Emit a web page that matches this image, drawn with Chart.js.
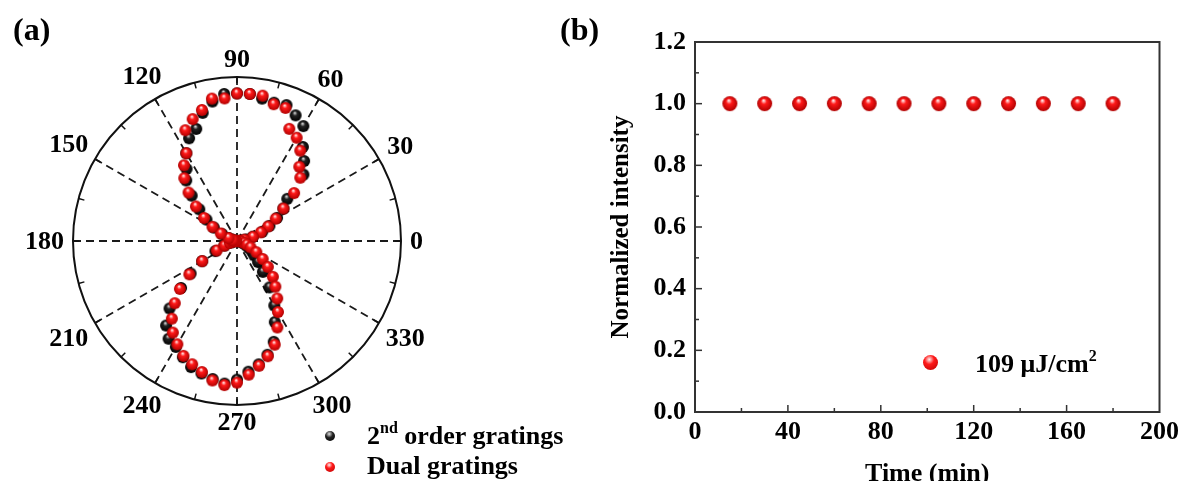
<!DOCTYPE html>
<html>
<head>
<meta charset="utf-8">
<script src="https://cdn.jsdelivr.net/npm/chart.js@4.4.1/dist/chart.umd.min.js"></script>
<style>
  body { margin: 0; background: #fff; }
  #wrap { position: relative; width: 1184px; height: 481px; overflow: hidden;
          font-family: "Liberation Serif", "Times New Roman", serif; font-weight: bold; color: #000; }
  .box { position: absolute; }
  .txt { position: absolute; white-space: nowrap; font-size: 26px; line-height: 26px; }
  .sup { font-size: 16px; position: relative; top: -11px; }
  .ball { position: absolute; border-radius: 50%; }
  .red { background: radial-gradient(circle at 42% 30%, #fff0f0 0%, #ff1a1a 35%, #b80000 100%); }
  .blk { background: radial-gradient(circle at 42% 30%, #e0e0e0 0%, #222 40%, #000 100%); }
</style>
</head>
<body>
<div id="wrap">
  <div class="box" style="left:0;top:0;width:560px;height:481px"><canvas id="polar"></canvas></div>
  <div class="box" style="left:560px;top:0;width:624px;height:481px"><canvas id="time"></canvas></div>

  <div class="txt" style="left:13px;top:13px;font-size:32px;line-height:32px">(a)</div>
  <div class="txt" style="left:560px;top:13px;font-size:32px;line-height:32px">(b)</div>

  <!-- legend (a) -->
  <div class="ball blk" style="left:325px;top:431px;width:10px;height:10px"></div>
  <div class="txt" style="left:367px;top:423px">2<span class="sup">nd</span> order gratings</div>
  <div class="ball red" style="left:325px;top:462px;width:10px;height:10px"></div>
  <div class="txt" style="left:367px;top:453px">Dual gratings</div>

  <!-- legend (b) -->
  <div class="ball red" style="left:923px;top:355px;width:15px;height:15px"></div>
  <div class="txt" style="left:975px;top:351px">109 μJ/cm<span class="sup">2</span></div>
</div>

<script>
// polarisation angle (deg), counter-clockwise from 0 at the right
const angleDeg = [0, 5, 10, 15, 20, 25, 30, 35, 40, 45, 50, 55, 60, 65, 70, 75, 80, 85,
  90, 95, 100, 105, 110, 115, 120, 125, 130, 135, 140, 145, 150, 155, 160, 165, 170, 175,
  180, 185, 190, 195, 200, 205, 210, 215, 220, 225, 230, 235, 240, 245, 250, 255, 260, 265,
  270, 275, 280, 285, 290, 295, 300, 305, 310, 315, 320, 325, 330, 335, 340, 345, 350, 355];

const secondOrder = [0.01, 0.03, 0.06, 0.11, 0.18, 0.24, 0.31, 0.38, 0.44, 0.63, 0.70, 0.77,
  0.89, 0.93, 0.97, 0.96, 0.97, 0.99, 0.99, 0.99, 0.95, 0.89, 0.80, 0.76, 0.68, 0.59, 0.53,
  0.43, 0.33, 0.25, 0.18, 0.11, 0.06, 0.03, 0.02, 0.01, 0.01, 0.01, 0.03, 0.05, 0.09, 0.16,
  0.27, 0.38, 0.49, 0.64, 0.74, 0.80, 0.82, 0.86, 0.90, 0.92, 0.94, 0.96, 0.93, 0.88, 0.84,
  0.79, 0.72, 0.60, 0.50, 0.38, 0.27, 0.20, 0.15, 0.12, 0.09, 0.07, 0.05, 0.03, 0.02, 0.01];

const dualGratings = [0.01, 0.02, 0.05, 0.11, 0.17, 0.23, 0.30, 0.38, 0.50, 0.60, 0.65, 0.74,
  0.80, 0.83, 0.95, 0.95, 0.99, 0.99, 0.99, 0.96, 0.97, 0.91, 0.87, 0.82, 0.68, 0.62, 0.55,
  0.46, 0.36, 0.27, 0.19, 0.12, 0.06, 0.03, 0.02, 0.01, 0.01, 0.01, 0.03, 0.05, 0.09, 0.15,
  0.27, 0.39, 0.50, 0.59, 0.68, 0.75, 0.80, 0.85, 0.88, 0.91, 0.95, 0.97, 0.95, 0.90, 0.85,
  0.80, 0.74, 0.64, 0.55, 0.47, 0.40, 0.34, 0.27, 0.21, 0.15, 0.10, 0.07, 0.05, 0.03, 0.01];

const polarTickLabels = [0, 30, 60, 90, 120, 150, 180, 210, 240, 270, 300, 330];

const timeMin = [15, 30, 45, 60, 75, 90, 105, 120, 135, 150, 165, 180];
const intensity = [1.0, 1.0, 1.0, 1.0, 1.0, 1.0, 1.0, 1.0, 1.0, 1.0, 1.0, 1.0];

const FONT = '"Liberation Serif", "Times New Roman", serif';
Chart.defaults.font.family = FONT;
Chart.defaults.font.weight = 'bold';
Chart.defaults.color = '#000';

// shaded ball used as point marker
function sphere(r, light, base, dark) {
  const c = document.createElement('canvas');
  const s = Math.ceil(r * 2) + 2;
  c.width = c.height = s;
  const g = c.getContext('2d');
  const m = s / 2;
  const grad = g.createRadialGradient(m - r * 0.15, m - r * 0.45, r * 0.05, m, m, r);
  grad.addColorStop(0, light);
  grad.addColorStop(0.35, base);
  grad.addColorStop(1, dark);
  g.fillStyle = grad;
  g.beginPath();
  g.arc(m, m, r, 0, Math.PI * 2);
  g.fill();
  return c;
}
const redBall = sphere(6, '#fff0f0', '#ff1a1a', '#b00000');
const blackBall = sphere(6, '#e0e0e0', '#222', '#000');
const redBig = sphere(7.5, '#fff0f0', '#ff1a1a', '#b00000');

// radar goes clockwise from the top, so label i sits at 90 - 5i degrees
const radarAngles = angleDeg.map((_, i) => (90 - 5 * i + 360) % 360);
const pick = (series) => radarAngles.map(a => series[angleDeg.indexOf(a)]);

const polarDecor = {
  id: 'polarDecor',
  afterDraw(chart) {
    const s = chart.scales.r;
    const ctx = chart.ctx;
    const R = s.drawingArea;
    const n = angleDeg.length;
    ctx.save();
    ctx.strokeStyle = '#111';
    ctx.lineWidth = 1.5;
    for (let i = 0; i < n; i += 3) {
      const p1 = s.getPointPosition(i, R);
      const p2 = s.getPointPosition(i, R - 6);
      ctx.beginPath();
      ctx.moveTo(p1.x, p1.y);
      ctx.lineTo(p2.x, p2.y);
      ctx.stroke();
    }
    ctx.font = 'bold 26px ' + FONT;
    ctx.fillStyle = '#000';
    ctx.textAlign = 'center';
    ctx.textBaseline = 'middle';
    polarTickLabels.forEach(a => {
      const i = ((90 - a) / 5 + n) % n;
      const txt = String(a);
      const w = ctx.measureText(txt).width;
      const rad = a * Math.PI / 180;
      const d = R + 9 + (w / 2) * Math.abs(Math.cos(rad)) + 8.5 * Math.abs(Math.sin(rad));
      const p = s.getPointPosition(i, d);
      ctx.fillText(txt, p.x, p.y + 1);
    });
    ctx.restore();
  }
};

new Chart(document.getElementById('polar'), {
  type: 'radar',
  data: {
    labels: radarAngles,
    datasets: [
      { label: '2nd order gratings', data: pick(secondOrder), order: 2,
        pointStyle: blackBall, pointRadius: 6, showLine: false, fill: false,
        borderColor: 'transparent', backgroundColor: 'transparent', borderWidth: 0 },
      { label: 'Dual gratings', data: pick(dualGratings), order: 1,
        pointStyle: redBall, pointRadius: 6, showLine: false, fill: false,
        borderColor: 'transparent', backgroundColor: 'transparent', borderWidth: 0 }
    ]
  },
  options: {
    responsive: true,
    maintainAspectRatio: false,
    animation: false,
    events: [],
    devicePixelRatio: 1,
    layout: { padding: { left: 73, right: 159, top: 77, bottom: 76 } },
    plugins: { legend: { display: false }, tooltip: { enabled: false } },
    scales: {
      r: {
        min: 0, max: 1.1, startAngle: 0,
        ticks: { display: false, stepSize: 1.1 },
        grid: { circular: true, color: '#111', lineWidth: 2 },
        angleLines: {
          color: '#1a1a1a',
          lineWidth: (c) => (c.index % 6 === 0 ? 1.8 : 0),
          borderDash: [8, 5]
        },
        pointLabels: { display: false }
      }
    }
  },
  plugins: [polarDecor]
});

const frameTicks = {
  id: 'frameTicks',
  afterDraw(chart) {
    const { left, right, top, bottom } = chart.chartArea;
    const ctx = chart.ctx;
    const x = chart.scales.x, y = chart.scales.y;
    ctx.save();
    ctx.strokeStyle = '#333';
    ctx.lineWidth = 2;
    ctx.strokeRect(left, top, right - left, bottom - top);
    ctx.lineWidth = 1.5;
    for (let v = 20; v < 200; v += 20) {
      const px = x.getPixelForValue(v);
      const len = v % 40 === 0 ? 7 : 4;
      ctx.beginPath(); ctx.moveTo(px, bottom); ctx.lineTo(px, bottom - len); ctx.stroke();
    }
    for (let k = 1; k < 12; k++) {
      const py = y.getPixelForValue(k / 10);
      const len = k % 2 === 0 ? 7 : 4;
      ctx.beginPath(); ctx.moveTo(left, py); ctx.lineTo(left + len, py); ctx.stroke();
    }
    ctx.restore();
  }
};

new Chart(document.getElementById('time'), {
  type: 'scatter',
  data: {
    datasets: [{
      label: '109 μJ/cm²',
      data: timeMin.map((t, i) => ({ x: t, y: intensity[i] })),
      pointStyle: redBig, pointRadius: 7.5, showLine: false
    }]
  },
  options: {
    responsive: true,
    maintainAspectRatio: false,
    animation: false,
    events: [],
    devicePixelRatio: 1,
    layout: { padding: { left: 49, right: 24, top: 42, bottom: 0 } },
    plugins: { legend: { display: false }, tooltip: { enabled: false } },
    scales: {
      x: {
        type: 'linear', min: 0, max: 200,
        ticks: { stepSize: 40, padding: 5, font: { size: 26, weight: 'bold' }, maxRotation: 0 },
        grid: { display: false, drawTicks: false },
        border: { display: false },
        title: { display: true, text: 'Time (min)', font: { size: 26, weight: 'bold', lineHeight: 1 },
                 padding: { top: 0, bottom: -6 } },
        afterFit: (s) => { s.height = 69; }
      },
      y: {
        min: 0, max: 1.2,
        ticks: { stepSize: 0.2, padding: 9, font: { size: 26, weight: 'bold' },
                 callback: (v) => Number(v).toFixed(1) },
        grid: { display: false, drawTicks: false },
        border: { display: false },
        title: { display: true, text: 'Normalized intensity', font: { size: 25, weight: 'bold', lineHeight: 1 },
                 padding: { top: 0, bottom: 0 } },
        afterFit: (s) => { s.width = 86; }
      }
    }
  },
  plugins: [frameTicks]
});
</script>
</body>
</html>
